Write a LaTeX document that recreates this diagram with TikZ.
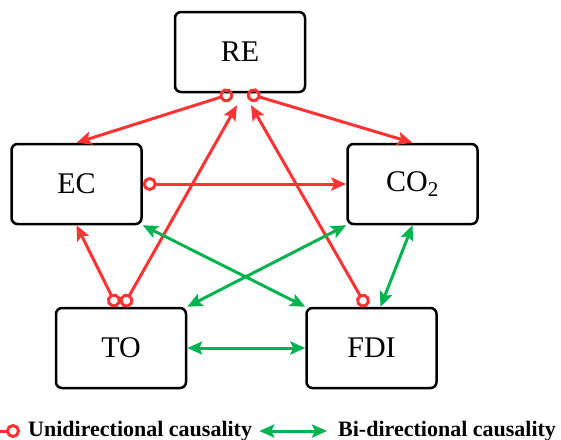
\documentclass[tikz,border=0pt]{standalone}
\usepackage{fontspec}
\setmainfont{Liberation Serif}
\usetikzlibrary{arrows.meta}
\definecolor{causred}{RGB}{255,51,51}
\definecolor{causgreen}{RGB}{0,178,80}
\begin{document}
\begin{tikzpicture}[x=1pt, y=-1pt,
  box/.style={draw, line width=2.5pt, rounded corners=6pt, minimum width=130pt, minimum height=80pt, font=\rmfamily\fontsize{30}{36}\selectfont},
  link/.style={line width=3pt},
  uni/.style={link, causred, {Circle[open,length=14pt,width=14pt,line width=3pt]}-{Stealth[length=15pt,width=13pt,inset=3pt]}},
  bi/.style={link, causgreen, {Stealth[length=15pt,width=13pt,inset=3pt]}-{Stealth[length=15pt,width=13pt,inset=3pt]}},
  legend/.style={font=\rmfamily\fontsize{22}{26}\selectfont\bfseries, inner sep=0pt}]
\useasboundingbox (0,0) rectangle (561,439);
% variables
\node[box] (RE) at (240,52) {RE};
\node[box] (EC) at (76.5,184) {EC};
\node[box] (CO2) at (412.5,184) {CO\textsubscript{2}};
\node[box] (TO) at (121,348) {TO};
\node[box] (FDI) at (371.5,348) {FDI};
% unidirectional causality
\draw[uni] ([xshift=-7pt]RE.south) -- (EC.north);
\draw[uni] ([xshift=7pt]RE.south) -- (CO2.north);
\draw[uni] (EC.east) -- (CO2.west);
\draw[uni] ([xshift=-4pt]TO.north) -- (EC.south);
\draw[uni] ([xshift=2pt]TO.north) -- ([xshift=-3pt,yshift=-12pt]RE.south);
\draw[uni] ([xshift=-5pt]FDI.north) -- ([xshift=11pt,yshift=-12pt]RE.south);
% bi-directional causality
\draw[bi] ([xshift=9pt]FDI.north) -- (CO2.south);
\draw[bi] (TO.north east) -- (CO2.south west);
\draw[bi] (EC.south east) -- (FDI.north west);
\draw[bi] (TO.east) -- (FDI.west);
% legend
\node[legend, anchor=west] (unitxt) at (28,431) {Unidirectional causality};
\node[legend, anchor=west] (bitxt) at (338,431) {Bi-directional causality};
\coordinate (legstart) at (0,431);
\draw[link, causred, -{Circle[open,length=14pt,width=14pt,line width=3pt]}] (legstart) -- ([xshift=-8pt]unitxt.west);
\draw[bi] ([xshift=7pt]unitxt.east) -- ([xshift=-11pt]bitxt.west);
\end{tikzpicture}
\end{document}
